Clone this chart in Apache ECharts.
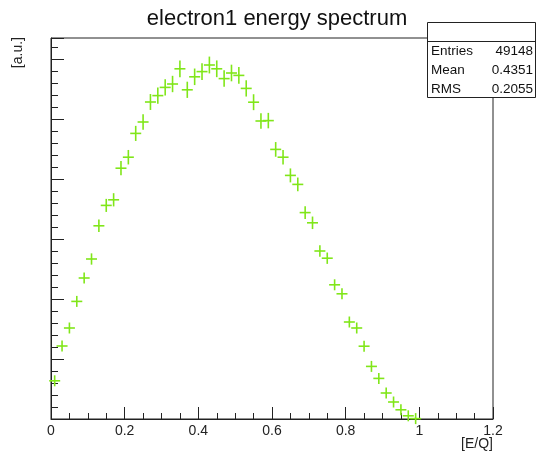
<!DOCTYPE html>
<html>
<head>
<meta charset="utf-8">
<title>electron1 energy spectrum</title>
<script src="https://cdn.jsdelivr.net/npm/echarts@6/dist/echarts.min.js"></script>
<style>
  html, body { margin: 0; padding: 0; background: #ffffff; }
  #chart { width: 537px; height: 455px; }
</style>
</head>
<body>
<div id="chart"></div>
<script>
// Histogram: 50 bins of width 0.02 over [0, 1] in E/Q
const binCenters = [
  0.01, 0.03, 0.05, 0.07, 0.09, 0.11, 0.13, 0.15, 0.17, 0.19,
  0.21, 0.23, 0.25, 0.27, 0.29, 0.31, 0.33, 0.35, 0.37, 0.39,
  0.41, 0.43, 0.45, 0.47, 0.49, 0.51, 0.53, 0.55, 0.57, 0.59,
  0.61, 0.63, 0.65, 0.67, 0.69, 0.71, 0.73, 0.75, 0.77, 0.79,
  0.81, 0.83, 0.85, 0.87, 0.89, 0.91, 0.93, 0.95, 0.97, 0.99
];
const binContents = [
  191, 365, 455, 588, 705, 800, 966, 1068, 1096, 1254,
  1309, 1428, 1485, 1585, 1617, 1658, 1675, 1751, 1646, 1711,
  1737, 1770, 1751, 1702, 1730, 1718, 1653, 1584, 1490, 1492,
  1348, 1309, 1218, 1173, 1032, 981, 840, 804, 671, 626,
  485, 455, 364, 263, 203, 130, 85, 46, 16, 2
];

const titleText = 'electron1 energy spectrum';
const xAxisTitle = '[E/Q]';
const yAxisTitle = '[a.u.]';
const statsNames = ['Entries', 'Mean', 'RMS'];
const statsValues = ['49148', '0.4351', '0.2055'];

const markerColor = '#80e619';
const lineColor = '#222222';
const fontFamily = '"Liberation Sans", Arial, Helvetica, sans-serif';

const points = binCenters.map((x, i) => [x, binContents[i]]);

// "+" marker with Poisson error bar (sqrt of bin content)
function renderPoint(params, api) {
  const x = api.value(0);
  const y = api.value(1);
  const c = api.coord([x, y]);
  const half = 5.5;
  const err = api.size([0, Math.sqrt(y)])[1];
  const v = Math.max(half, err);
  const style = { stroke: markerColor, lineWidth: 1.6, fill: null };
  return {
    type: 'group',
    children: [
      { type: 'line', shape: { x1: c[0] - half, y1: c[1], x2: c[0] + half, y2: c[1] }, style: style },
      { type: 'line', shape: { x1: c[0], y1: c[1] - v, x2: c[0], y2: c[1] + v }, style: style }
    ]
  };
}

const chart = echarts.init(document.getElementById('chart'), null, { renderer: 'canvas' });

const yMax = 1905;

const statsChildren = [
  { type: 'rect', shape: { x: 427.5, y: 22.5, width: 108, height: 75 },
    style: { fill: '#ffffff', stroke: lineColor, lineWidth: 1 } },
  { type: 'line', shape: { x1: 427.5, y1: 41.5, x2: 535.5, y2: 41.5 },
    style: { stroke: lineColor, lineWidth: 1 } }
];
const statsRows = [51.5, 70, 89];
statsNames.forEach((name, i) => {
  statsChildren.push({
    type: 'text', x: 431, y: statsRows[i],
    style: { text: name, font: '13.5px ' + fontFamily, fill: '#111', align: 'left', verticalAlign: 'middle' }
  });
  statsChildren.push({
    type: 'text', x: 533, y: statsRows[i],
    style: { text: statsValues[i], font: '13.5px ' + fontFamily, fill: '#111', align: 'right', verticalAlign: 'middle' }
  });
});

const option = {
  animation: false,
  backgroundColor: '#ffffff',
  grid: {
    left: 51, right: 44, top: 38, bottom: 36,
    outerBoundsMode: 'none',
    containLabel: false,
    show: true, borderColor: lineColor, borderWidth: 1, backgroundColor: 'transparent'
  },
  xAxis: {
    type: 'value',
    min: 0, max: 1.2, interval: 0.2,
    axisLine: { show: true, onZero: false, lineStyle: { color: lineColor, width: 1 } },
    axisTick: { show: true, inside: true, length: 12, lineStyle: { color: lineColor, width: 1 } },
    minorTick: { show: true, splitNumber: 4, length: 6, lineStyle: { color: lineColor, width: 1 } },
    axisLabel: { fontFamily: fontFamily, fontSize: 14, color: '#222', margin: 5 },
    splitLine: { show: false },
    minorSplitLine: { show: false }
  },
  yAxis: [
    {
      type: 'value',
      min: 0, max: yMax, interval: 300,
      axisLine: { show: true, onZero: false, lineStyle: { color: lineColor, width: 1 } },
      axisTick: { show: true, inside: true, length: 13, lineStyle: { color: lineColor, width: 1 } },
      axisLabel: { show: false },
      splitLine: { show: false }
    },
    {
      type: 'value',
      position: 'left',
      min: 0, max: yMax, interval: 60,
      axisLine: { show: false },
      axisTick: { show: true, inside: true, length: 7, lineStyle: { color: lineColor, width: 1 } },
      axisLabel: { show: false },
      splitLine: { show: false }
    }
  ],
  series: [
    {
      type: 'custom',
      name: 'electron1',
      xAxisIndex: 0,
      yAxisIndex: 0,
      renderItem: renderPoint,
      encode: { x: 0, y: 1 },
      data: points,
      clip: false,
      z: 5
    }
  ],
  graphic: [
    {
      type: 'text', x: 277, y: 19, z: 100,
      style: { text: titleText, font: '22px ' + fontFamily, fill: '#111', align: 'center', verticalAlign: 'middle' }
    },
    {
      type: 'text', x: 18.5, y: 37, rotation: Math.PI / 2, z: 100,
      style: { text: yAxisTitle, font: '14px ' + fontFamily, fill: '#222', align: 'right', verticalAlign: 'middle' }
    },
    {
      type: 'text', x: 493, y: 444.5, z: 100,
      style: { text: xAxisTitle, font: '14px ' + fontFamily, fill: '#222', align: 'right', verticalAlign: 'middle' }
    },
    { type: 'group', z: 100, children: statsChildren }
  ]
};

chart.setOption(option);
</script>
</body>
</html>
